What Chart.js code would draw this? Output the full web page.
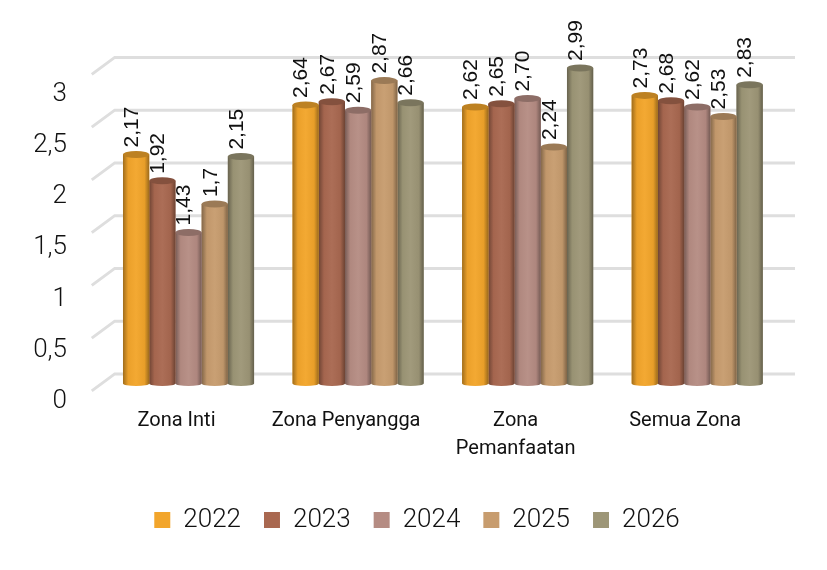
<!DOCTYPE html>
<html>
<head>
<meta charset="utf-8">
<style>html,body{margin:0;padding:0;background:#fff}#w{width:827px;height:570px}</style>
<script src="https://cdn.jsdelivr.net/npm/chart.js@4"></script>
</head>
<body>
<div id="w"><canvas id="c"></canvas></div>
<script>
const categories = ["Zona Inti", "Zona Penyangga", ["Zona", "Pemanfaatan"], "Semua Zona"];
const seriesNames = ["2022", "2023", "2024", "2025", "2026"];
const v2022 = [2.17, 2.64, 2.62, 2.73];
const v2023 = [1.92, 2.67, 2.65, 2.68];
const v2024 = [1.43, 2.59, 2.70, 2.62];
const v2025 = [1.70, 2.87, 2.24, 2.53];
const v2026 = [2.15, 2.66, 2.99, 2.83];
const l2022 = ["2,17", "2,64", "2,62", "2,73"];
const l2023 = ["1,92", "2,67", "2,65", "2,68"];
const l2024 = ["1,43", "2,59", "2,70", "2,62"];
const l2025 = ["1,7", "2,87", "2,24", "2,53"];
const l2026 = ["2,15", "2,66", "2,99", "2,83"];
const yTicks = [0, 0.5, 1, 1.5, 2, 2.5, 3];
const colors = ["#F2A52B", "#A96850", "#B58C83", "#C79C6E", "#9D9677"];

const values = [v2022, v2023, v2024, v2025, v2026];
const pointLabels = [l2022, l2023, l2024, l2025, l2026];

function shade(hex, f) {
  const n = parseInt(hex.slice(1), 16);
  const ch = [n >> 16, (n >> 8) & 255, n & 255].map(c =>
    Math.min(255, Math.round(f <= 1 ? c * f : c + (255 - c) * (f - 1))));
  return `rgb(${ch[0]},${ch[1]},${ch[2]})`;
}

const cylinders = {
  id: 'cylinders',
  beforeDatasetsDraw(chart) {
    const c = chart.ctx, y = chart.scales.y, a = chart.chartArea;
    c.save();
    c.strokeStyle = '#dedede';
    c.lineWidth = 3;
    yTicks.forEach(t => {
      const p = y.getPixelForValue(t);
      c.beginPath();
      c.moveTo(a.left - 12, p + 7.5);
      c.lineTo(a.left + 11, p - 9.5);
      c.lineTo(a.right + 13, p - 9.5);
      c.stroke();
    });
    c.restore();
  },
  afterDatasetDraw(chart, args) {
    const c = chart.ctx, col = colors[args.index];
    c.save();
    chart.getDatasetMeta(args.index).data.forEach(el => {
      const w = el.width, l = el.x - w / 2, r = el.x + w / 2;
      const g = c.createLinearGradient(l, 0, r, 0);
      g.addColorStop(0, shade(col, 0.66));
      g.addColorStop(0.2, shade(col, 0.97));
      g.addColorStop(0.5, shade(col, 1.04));
      g.addColorStop(0.82, shade(col, 0.96));
      g.addColorStop(1, shade(col, 0.64));
      c.fillStyle = g;
      c.beginPath();
      c.moveTo(l, el.y);
      c.lineTo(r, el.y);
      c.lineTo(r, el.base);
      c.ellipse(el.x, el.base, w / 2, 2.5, 0, 0, Math.PI);
      c.closePath();
      c.fill();
      c.fillStyle = shade(col, 0.78);
      c.beginPath();
      c.ellipse(el.x, el.y, w / 2, 3.5, 0, 0, Math.PI * 2);
      c.fill();
    });
    c.restore();
  },
  afterDatasetsDraw(chart) {
    const c = chart.ctx;
    c.save();
    c.fillStyle = '#111';
    c.font = '21px "Liberation Sans"';
    c.textBaseline = 'middle';
    c.textAlign = 'left';
    pointLabels.forEach((labs, i) => {
      chart.getDatasetMeta(i).data.forEach((el, j) => {
        c.save();
        c.translate(el.x - 4, el.y - 7);
        c.rotate(-Math.PI / 2);
        c.fillText(labs[j], 0, 0);
        c.restore();
      });
    });
    c.restore();
  }
};

new Chart(document.getElementById('c'), {
  type: 'bar',
  plugins: [cylinders],
  data: {
    labels: categories,
    datasets: seriesNames.map((n, i) => ({
      label: n,
      data: values[i],
      backgroundColor: colors[i],
      borderWidth: 0,
      categoryPercentage: 0.773,
      barPercentage: 1
    }))
  },
  options: {
    responsive: true,
    maintainAspectRatio: false,
    animation: false,
    layout: { padding: { left: 7, right: 0, top: 28, bottom: 27 } },
    plugins: {
      tooltip: { enabled: false },
      legend: {
        position: 'bottom',
        labels: {
          boxWidth: 16, boxHeight: 16, padding: 23,
          color: '#111',
          font: { family: 'Roboto', size: 26, weight: '300' }
        }
      }
    },
    scales: {
      x: {
        grid: { display: false },
        border: { display: false },
        afterFit(s) { s.height = 82; },
        ticks: {
          color: '#111', padding: -3, maxRotation: 0, autoSkip: false, labelOffset: -12,
          font: { family: 'Roboto', size: 20, weight: '400', lineHeight: 1.4 }
        }
      },
      y: {
        display: false,
        min: -0.1762, max: 3.138
      },
      yT: {
        position: 'left',
        min: -0.005, max: 3.407,
        afterBuildTicks(s) { s.ticks = yTicks.map(v => ({ value: v })); },
        afterFit(s) { s.width = 96.75; },
        grid: { display: false, drawTicks: false },
        border: { display: false },
        ticks: {
          color: '#111', padding: 36.75,
          font: { family: 'Roboto', size: 26, weight: '300' },
          callback: v => String(v).replace('.', ',')
        }
      },
      yR: {
        position: 'right',
        afterFit(s) { s.width = 45; },
        grid: { display: false, drawTicks: false },
        border: { display: false },
        ticks: { display: false }
      }
    }
  }
});
</script>
</body>
</html>
